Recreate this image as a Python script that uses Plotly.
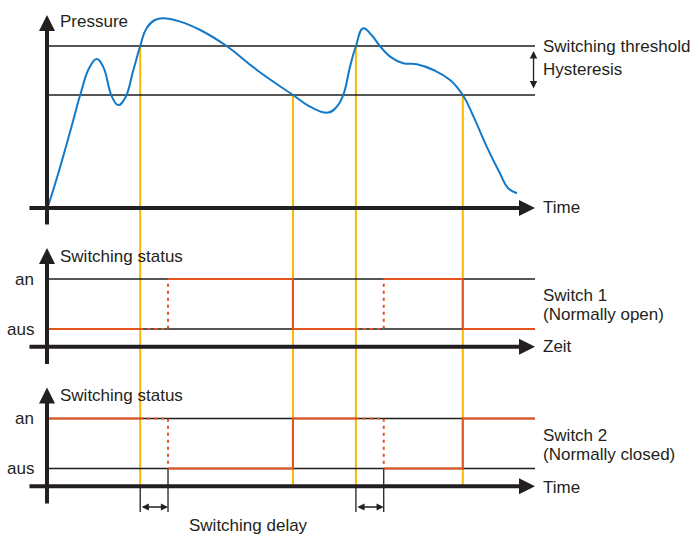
import plotly.graph_objects as go

# ---------------- data ----------------
# pressure curve (time in arbitrary units 0..100, pressure in arbitrary units)
pressure_time = [0.3, 2.7, 5.4, 6.8, 8.8, 10.2, 11.5, 13.3, 14.6, 16.0, 17.7, 19.1,
                 20.4, 22.1, 23.8, 27.3, 31.4, 36.8, 43.0, 50.4, 53.9, 57.6, 59.4,
                 60.7, 62.1, 63.3, 64.8, 66.5, 68.2, 70.3, 73.0, 75.8, 79.2, 82.6,
                 85.2, 87.4, 90.1, 92.8, 94.5, 96.3]
pressure_value = [1.5, 20.5, 44.0, 56.5, 70.7, 74.5, 70.7, 55.7, 51.5, 55.0, 69.0, 81.0,
                  89.9, 94.0, 94.9, 93.2, 89.0, 81.0, 69.0, 56.5, 50.7, 47.7, 50.7,
                  56.5, 70.7, 81.0, 89.9, 86.5, 81.0, 75.7, 72.4, 71.9, 69.0, 64.0,
                  56.5, 45.7, 30.7, 17.4, 9.9, 7.4]
switching_threshold = 81.0
hysteresis_level = 56.5
rise_times = [19.1, 63.3]    # pressure rises above switching threshold
fall_times = [50.4, 85.2]    # pressure falls below threshold - hysteresis
switching_delay = 5.7
time_end = 100.0
status_values = [1, 0]
status_labels = ["an", "aus"]

# ---------------- styles / layout constants ----------------
W, H = 696, 535
INK = "#231f20"
REF = "#1e1e1e"
BLUE = "#1279c8"
YELLOW = "#f8b900"
ORANGE = "#e2531e"
FONT = dict(family="Liberation Sans, Arial, sans-serif", size=17, color=INK)

X_RANGE = [-9.63, 132.99]
TOP_RANGE = [-11.0, 104.0]
MID_RANGE = [-0.82, 1.98]
BOT_RANGE = [-1.33, 1.97]
TOP_DOM = [1 - 230 / H, 1.0]
MID_DOM = [1 - 370 / H, 1 - 230 / H]
BOT_DOM = [0.0, 1 - 370 / H]

STATUS_AXIS = -0.355
DELAY_TICK_BOTTOM = -0.87
DELAY_ARROW_Y = -0.77
LABEL_X_LEFT = 2.3
LABEL_X_RIGHT = 101.25
LEVEL_LABEL_X = -2.3

fig = go.Figure()


def line(x, y, yaxis, color, width, dash="solid"):
    fig.add_trace(go.Scatter(x=x, y=y, mode="lines", xaxis="x", yaxis=yaxis,
                             line=dict(color=color, width=width, dash=dash),
                             hoverinfo="skip", showlegend=False))


# yellow switching-point lines across all three panels
cross_times = sorted(rise_times + fall_times)
cross_levels = [switching_threshold if t in rise_times else hysteresis_level for t in cross_times]
for t, lvl in zip(cross_times, cross_levels):
    line([t, t], [lvl, TOP_RANGE[0]], "y", YELLOW, 2)
    line([t, t], [MID_RANGE[1], MID_RANGE[0]], "y2", YELLOW, 2)
    line([t, t], [BOT_RANGE[1], STATUS_AXIS], "y3", YELLOW, 2)

# threshold and hysteresis lines
for lvl in (switching_threshold, hysteresis_level):
    line([0.4, time_end], [lvl, lvl], "y", REF, 1.5)

# an / aus reference lines
for ya in ("y2", "y3"):
    for v in status_values:
        line([0.4, time_end], [v, v], ya, REF, 1.3)


def switch_paths(idle, active):
    sx, sy, dx, dy = [], [], [], []
    seg_x, seg_y = [0.0], [idle]
    for r, f in zip(rise_times, fall_times):
        d = r + switching_delay
        seg_x.append(r)
        seg_y.append(idle)
        sx += seg_x + [None]
        sy += seg_y + [None]
        dx += [r, d, d, None]
        dy += [idle, idle, active, None]
        seg_x, seg_y = [d, f, f], [active, active, idle]
    seg_x.append(time_end)
    seg_y.append(idle)
    sx += seg_x
    sy += seg_y
    return sx, sy, dx, dy


# delay markers (bottom panel)
for r in rise_times:
    d = r + switching_delay
    line([r, r], [STATUS_AXIS, DELAY_TICK_BOTTOM], "y3", INK, 1.3)
    line([d, d], [0, DELAY_TICK_BOTTOM], "y3", INK, 1.3)

for ya, (idle, active) in (("y2", (0, 1)), ("y3", (1, 0))):
    sx, sy, dx, dy = switch_paths(idle, active)
    line(dx, dy, ya, ORANGE, 2, dash="3px,4px")
    line(sx, sy, ya, ORANGE, 2)

# pressure curve
fig.add_trace(go.Scatter(x=pressure_time, y=pressure_value, mode="lines",
                         xaxis="x", yaxis="y",
                         line=dict(color=BLUE, width=2, shape="spline", smoothing=1.3),
                         hoverinfo="skip", showlegend=False))

ann = []


def arrow(x0, y0, x1, y1, yref, width, size, both=False, color=INK):
    a = dict(x=x1, y=y1, ax=x0, ay=y0, xref="x", yref=yref, axref="x", ayref=yref,
             text="", showarrow=True, arrowhead=2, arrowsize=size, arrowwidth=width,
             arrowcolor=color, standoff=0, startstandoff=0)
    if both:
        a.update(arrowside="end+start", startarrowhead=2, startarrowsize=size)
    ann.append(a)


def text(x, y, yref, s, xanchor="left"):
    ann.append(dict(x=x, y=y, xref="x", yref=yref, text=s, showarrow=False,
                    xanchor=xanchor, yanchor="middle", font=FONT))


# axes with arrows
arrow(0, -9.0, 0, 96.5, "y", 4, 0.8)
arrow(-3.9, 0, time_end, 0, "y", 4, 0.8)
for ya in ("y2", "y3"):
    arrow(0, -0.73, 0, 1.62, ya, 4, 0.8)
    arrow(-3.9, STATUS_AXIS, time_end, STATUS_AXIS, ya, 4, 0.8)

# hysteresis double arrow
arrow(99.7, hysteresis_level + 2.5, 99.7, switching_threshold - 2.5, "y", 1.3, 1.15, both=True)
# switching delay double arrows
for r in rise_times:
    arrow(r, DELAY_ARROW_Y, r + switching_delay, DELAY_ARROW_Y, "y3", 1.3, 1.1, both=True)

# texts
text(LABEL_X_LEFT, 93.5, "y", "Pressure")
text(LABEL_X_RIGHT, switching_threshold, "y", "Switching threshold")
text(LABEL_X_RIGHT, 69.5, "y", "Hysteresis")
text(LABEL_X_RIGHT, 0.2, "y", "Time")

text(LABEL_X_LEFT, 1.46, "y2", "Switching status")
text(LABEL_X_LEFT, 1.46, "y3", "Switching status")
for ya in ("y2", "y3"):
    for v, lab in zip(status_values, status_labels):
        text(LEVEL_LABEL_X, v, ya, lab, xanchor="right")

text(LABEL_X_RIGHT, 0.68, "y2", "Switch 1")
text(LABEL_X_RIGHT, 0.30, "y2", "(Normally open)")
text(LABEL_X_RIGHT, STATUS_AXIS, "y2", "Zeit")
text(LABEL_X_RIGHT, 0.67, "y3", "Switch 2")
text(LABEL_X_RIGHT, 0.29, "y3", "(Normally closed)")
text(LABEL_X_RIGHT, STATUS_AXIS - 0.02, "y3", "Time")
text(28.7, -1.13, "y3", "Switching delay")

hidden = dict(visible=False, showgrid=False, zeroline=False, fixedrange=True)
fig.update_layout(
    width=W, height=H, margin=dict(l=0, r=0, t=0, b=0),
    paper_bgcolor="white", plot_bgcolor="white",
    xaxis=dict(range=X_RANGE, domain=[0, 1], **hidden),
    yaxis=dict(range=TOP_RANGE, domain=TOP_DOM, **hidden),
    yaxis2=dict(range=MID_RANGE, domain=MID_DOM, **hidden),
    yaxis3=dict(range=BOT_RANGE, domain=BOT_DOM, **hidden),
    annotations=ann,
    showlegend=False,
)

fig.write_html("out.html", config=dict(displayModeBar=False),
               post_script="document.body.style.margin='0px';document.body.style.padding='0px';")
